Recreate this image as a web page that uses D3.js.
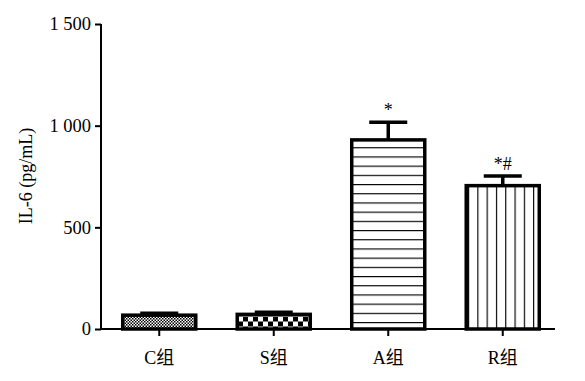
<!DOCTYPE html>
<html>
<head>
<meta charset="utf-8">
<script src="https://cdn.jsdelivr.net/npm/d3@7"></script>
<style>
  body { margin: 0; background: #fff; }
  text { font-family: "Liberation Serif", "Times New Roman", "Noto Sans CJK SC", serif; }
</style>
</head>
<body>
<div id="chart"></div>
<script>
const groups = ["C组", "S组", "A组", "R组"];
const means = [68, 72, 930, 705];
const errors = [10, 10, 87, 47];
const marks = ["", "", "*", "*#"];
const yTicks = [0, 500, 1000, 1500];
const patternIds = ["pC", "pS", "pA", "pR"];

const width = 585, height = 381;

const svg = d3.select("#chart")
    .append("svg")
    .attr("width", width)
    .attr("height", height);

// fill patterns
const defs = svg.append("defs");

const pC = defs.append("pattern").attr("id", "pC")
    .attr("patternUnits", "userSpaceOnUse").attr("width", 3).attr("height", 3);
pC.append("rect").attr("width", 3).attr("height", 3).attr("fill", "#fff");
pC.append("rect").attr("width", 1.5).attr("height", 1.5).attr("fill", "#000");
pC.append("rect").attr("x", 1.5).attr("y", 1.5).attr("width", 1.5).attr("height", 1.5).attr("fill", "#000");

const pS = defs.append("pattern").attr("id", "pS")
    .attr("patternUnits", "userSpaceOnUse").attr("width", 10).attr("height", 10)
    .attr("x", 238).attr("y", 316.5);
pS.append("rect").attr("width", 10).attr("height", 10).attr("fill", "#000");
pS.append("rect").attr("width", 5).attr("height", 5).attr("fill", "#fff");
pS.append("rect").attr("x", 5).attr("y", 5).attr("width", 5).attr("height", 5).attr("fill", "#fff");

const pA = defs.append("pattern").attr("id", "pA")
    .attr("patternUnits", "userSpaceOnUse").attr("width", 10).attr("height", 9.2);
pA.append("rect").attr("width", 10).attr("height", 9.2).attr("fill", "#fff");
pA.append("line").attr("x1", 0).attr("x2", 10).attr("y1", 0.5).attr("y2", 0.5)
    .attr("stroke", "#000").attr("stroke-width", 1.3);

const pR = defs.append("pattern").attr("id", "pR")
    .attr("patternUnits", "userSpaceOnUse").attr("width", 9.3).attr("height", 10)
    .attr("x", 468);
pR.append("rect").attr("width", 9.3).attr("height", 10).attr("fill", "#fff");
pR.append("line").attr("y1", 0).attr("y2", 10).attr("x1", 0.5).attr("x2", 0.5)
    .attr("stroke", "#000").attr("stroke-width", 1.3);

// scales
const x = d3.scaleBand()
    .domain(groups)
    .range([102, 560])
    .paddingInner(0.336)
    .paddingOuter(0.168);

const y = d3.scaleLinear()
    .domain([0, 1500])
    .range([329, 24]);

// y axis
const yAxis = svg.append("g")
    .attr("transform", "translate(101,0)")
    .call(d3.axisLeft(y).tickValues(yTicks).tickSize(6).tickPadding(4)
        .tickFormat(d => d3.format(",")(d).replace(",", " ")));
yAxis.select(".domain").attr("stroke-width", 2).attr("d", "M0," + y(1500) + "V" + (y(0) + 1));
yAxis.selectAll(".tick line").attr("stroke-width", 2);
yAxis.selectAll("text").style("font-size", "18.5px").attr("fill", "#000");

// bars
svg.selectAll(".bar")
    .data(groups)
    .enter()
    .append("rect")
    .attr("x", d => x(d) + 1.5)
    .attr("y", (d, i) => y(means[i]))
    .attr("width", x.bandwidth() - 3)
    .attr("height", (d, i) => y(0) - y(means[i]))
    .attr("fill", (d, i) => "url(#" + patternIds[i] + ")")
    .attr("stroke", "#000")
    .attr("stroke-width", 3.5);

// error bars
const cx = d => x(d) + x.bandwidth() / 2;
svg.selectAll(".err")
    .data(groups)
    .enter()
    .append("line")
    .attr("x1", cx).attr("x2", cx)
    .attr("y1", (d, i) => y(means[i]))
    .attr("y2", (d, i) => y(means[i] + errors[i]))
    .attr("stroke", "#000").attr("stroke-width", 3.5);
svg.selectAll(".cap")
    .data(groups)
    .enter()
    .append("line")
    .attr("x1", d => cx(d) - x.bandwidth() / 4)
    .attr("x2", d => cx(d) + x.bandwidth() / 4)
    .attr("y1", (d, i) => y(means[i] + errors[i]))
    .attr("y2", (d, i) => y(means[i] + errors[i]))
    .attr("stroke", "#000").attr("stroke-width", 3.5);

// significance marks
svg.selectAll(".mark")
    .data(groups)
    .enter()
    .append("text")
    .attr("x", cx)
    .attr("y", (d, i) => y(means[i] + errors[i]) - 6)
    .attr("text-anchor", "middle")
    .style("font-size", "18px")
    .text((d, i) => marks[i]);

// x axis
const xAxis = svg.append("g")
    .attr("transform", "translate(0," + y(0) + ")")
    .call(d3.axisBottom(x).tickSize(7).tickPadding(15));
xAxis.select(".domain").attr("stroke-width", 2).attr("d", "M100,0H555");
xAxis.selectAll(".tick line").attr("stroke-width", 2);
xAxis.selectAll("text").style("font-size", "18px").attr("fill", "#000");

// y label
svg.append("text")
    .attr("transform", "translate(32,176) rotate(-90)")
    .attr("text-anchor", "middle")
    .style("font-size", "18px")
    .text("IL-6 (pg/mL)");
</script>
</body>
</html>
